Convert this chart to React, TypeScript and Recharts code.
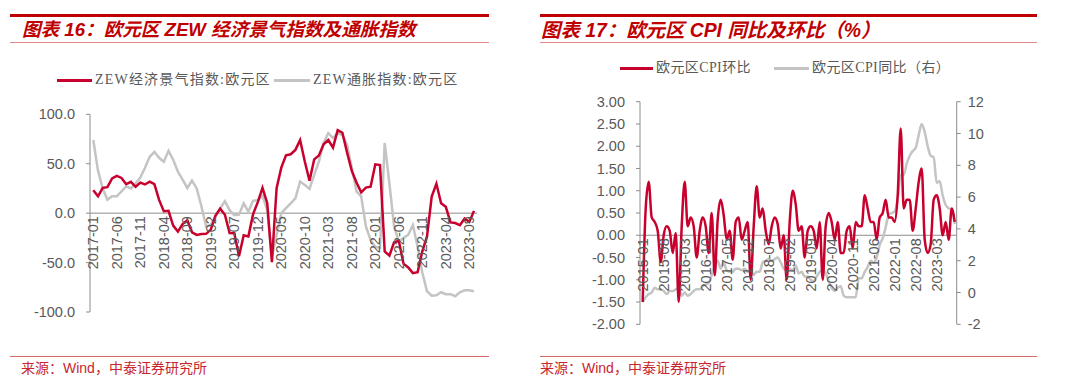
import React from 'react';
import { LineChart, Line, XAxis, YAxis, ReferenceLine } from 'recharts';

const RED = '#C8002D';
const GRAY = '#C4C4C4';
const AXIS = '#8C8C8C';
const TEXT = '#595959';
const TITLE_RED = '#C00000';
const SANS = '"Liberation Sans", Arial, "Noto Sans CJK SC", sans-serif';
const SERIF = '"Liberation Serif", "Noto Sans CJK SC", serif';

// month labels, yyyy-mm
function monthLabels(startYear: number, startMonth: number, count: number): string[] {
  const out: string[] = [];
  let y = startYear;
  let m = startMonth;
  for (let i = 0; i < count; i++) {
    out.push(`${y}-${m < 10 ? '0' + m : m}`);
    m++;
    if (m > 12) { m = 1; y++; }
  }
  return out;
}

// ---- chart 16: ZEW sentiment & inflation expectations (2017-01 .. 2023-10)
const zewMonths = monthLabels(2017, 1, 82);
const zewSentiment = [
  23.2, 17.1, 25.6, 26.3, 35.1, 37.7, 35.6, 29.3, 31.7, 26.7, 30.9, 29.0,
  31.8, 29.3, 13.4, 1.9, 2.4, -12.6, -18.7, -11.1, -7.2, -19.4, -22.0, -21.0,
  -20.9, -16.6, -2.5, 4.5, -1.6, -20.2, -20.3, -43.6, -22.4, -23.5, -1.0, 11.2,
  25.6, 10.4, -49.5, 25.2, 46.0, 58.6, 59.6, 64.0, 73.9, 52.3, 32.8, 54.4,
  58.3, 69.6, 74.0, 66.3, 84.0, 81.3, 61.2, 42.7, 31.1, 21.0, 25.9, 26.8,
  49.4, 48.6, -38.7, -43.0, -29.5, -28.0, -51.1, -54.9, -60.7, -59.7, -38.7, -23.6,
  16.7, 29.7, 10.0, 6.4, -9.4, -10.0, -12.2, -5.5, -8.9, 2.3,
];
const zewInflation = [
  74, 43, 25, 13.5, 17, 17, 22, 27, 25, 30, 36, 46,
  57, 62, 56, 52, 63, 54, 42, 34, 25.5, 33, 25, 7,
  -13.5, -12, -3, 5, 12, 3, -2, -1.5, 10, 1.5, 12.7, 13,
  17.5, 3, -45, -22, 0, 5, 10, 15, 32, 28.6, 24.5, 38.7,
  52, 71, 81, 76, 81, 79, 69, 46, 22, 17, -13.5, -27,
  -34, -35, 71, 30, -13.5, -28.7, -25, -22, -12, -34, -60, -79,
  -83.5, -83, -80, -82, -82, -84, -80, -78, -78, -79,
];
const zewTicks = [-100, -50, 0, 50, 100];

// ---- chart 17: euro area CPI mom & yoy (2015-01 .. 2023-09)
const cpiMonths = monthLabels(2015, 1, 105);
const cpiMoM = [
  -1.5, 0.6, 1.2, 0.4, 0.3, 0.1, -0.6, 0.0, 0.2, 0.1, -0.4, 0.05,
  -1.5, 0.2, 1.2, 0.2, 0.4, 0.2, -0.5, 0.1, 0.4, 0.2, -0.4, 0.5,
  -0.9, 0.35, 0.8, 0.45, -0.1, 0.1, -0.55, 0.3, 0.4, -0.1, 0.1, 0.3,
  -1.0, 0.2, 1.1, 0.4, 0.6, 0.1, -0.2, 0.2, 0.4, 0.25, -0.3, 0.0,
  -1.0, 0.3, 1.0, 0.7, 0.1, 0.2, -0.5, 0.1, 0.2, 0.1, -0.3, 0.3,
  -1.0, 0.2, 0.5, 0.3, -0.1, 0.3, -0.4, -0.4, 0.1, 0.2, -0.3, 0.3,
  0.2, 0.2, 0.9, 0.6, 0.3, 0.3, -0.1, 0.4, 0.5, 0.8, 0.4, 0.4,
  0.3, 0.9, 2.4, 0.6, 0.8, 0.8, 0.1, 0.6, 1.2, 1.5, -0.1, -0.4,
  -0.2, 0.8, 0.9, 0.6, 0.0, 0.3, -0.1, 0.6, 0.3,
];
const cpiYoY = [
  -0.6, -0.3, -0.1, 0.0, 0.3, 0.2, 0.2, 0.1, -0.1, 0.1, 0.1, 0.2,
  0.3, -0.2, 0.0, -0.2, -0.1, 0.1, 0.2, 0.2, 0.4, 0.5, 0.6, 1.1,
  1.7, 2.0, 1.5, 1.9, 1.4, 1.3, 1.3, 1.5, 1.5, 1.4, 1.5, 1.3,
  1.3, 1.1, 1.3, 1.3, 1.9, 2.0, 2.1, 2.0, 2.1, 2.2, 1.9, 1.5,
  1.4, 1.5, 1.4, 1.7, 1.2, 1.3, 1.0, 1.0, 0.8, 0.7, 1.0, 1.3,
  1.4, 1.2, 0.7, 0.3, 0.1, 0.3, 0.4, -0.2, -0.3, -0.3, -0.3, -0.3,
  0.9, 0.9, 1.3, 1.6, 2.0, 1.9, 2.2, 3.0, 3.4, 4.1, 4.9, 5.0,
  5.1, 5.9, 7.4, 7.4, 8.1, 8.6, 8.9, 9.1, 9.9, 10.6, 10.1, 9.2,
  8.6, 8.5, 6.9, 7.0, 6.1, 5.5, 5.3, 5.2, 4.3,
];
const cpiLeftTicks = [-2, -1.5, -1, -0.5, 0, 0.5, 1, 1.5, 2, 2.5, 3];
const cpiRightTicks = [-2, 0, 2, 4, 6, 8, 10, 12];

const zewData = zewMonths.map((m, i) => ({ month: m, sentiment: zewSentiment[i], inflation: zewInflation[i] }));
const cpiData = cpiMonths.map((m, i) => ({ month: m, mom: cpiMoM[i], yoy: cpiYoY[i] }));

// rotated month labels hanging under the zero line
const hangingTick = (zeroY: number) => (props: any) => {
  const { x, payload } = props;
  const y = zeroY + 3;
  return (
    <text
      x={x}
      y={y}
      transform={`rotate(-90 ${x} ${y})`}
      textAnchor="end"
      dominantBaseline="central"
      fill={TEXT}
      fontSize={14.5}
      fontFamily={SANS}
    >
      {payload.value}
    </text>
  );
};

const Header = ({ left, width, title, textLeft, size }: { left: number; width: number; title: string; textLeft: number; size: number }) => (
  <>
    <div style={{ position: 'absolute', left, top: 14, width, height: 2.5, background: TITLE_RED }} />
    <div style={{
      position: 'absolute', left: textLeft, top: 18, whiteSpace: 'nowrap',
      color: TITLE_RED, fontFamily: SANS, fontStyle: 'italic', fontWeight: 'bold', fontSize: size, lineHeight: '24px',
    }}>{title}</div>
    <div style={{ position: 'absolute', left, top: 41.5, width, height: 1, background: '#E58A8A' }} />
  </>
);

const Footer = ({ left, width, textLeft }: { left: number; width: number; textLeft: number }) => (
  <>
    <div style={{ position: 'absolute', left, top: 356, width, height: 1, background: '#D46A6A' }} />
    <div style={{
      position: 'absolute', left: textLeft, top: 359, whiteSpace: 'nowrap',
      color: '#C8262E', fontFamily: SERIF, fontSize: 14, lineHeight: '18px',
    }}>来源：<span style={{ fontFamily: SANS }}>Wind</span>，中泰证券研究所</div>
  </>
);

const LegendItem = ({ x, y, len, color, label, spacing }: { x: number; y: number; len: number; color: string; label: string; spacing?: number }) => (
  <>
    <div style={{ position: 'absolute', left: x, top: y - 1.5, width: len, height: 3, background: color }} />
    <div style={{
      position: 'absolute', left: x + len + 3, top: y - 9, whiteSpace: 'nowrap', color: TEXT,
      fontFamily: SERIF, fontSize: 14, lineHeight: '18px', letterSpacing: spacing ?? 0,
    }}>{label}</div>
  </>
);

// chart geometry
const Z = { w: 490, h: 230, top: 14.3, bottom: 17, xh: 1, right: 13, yw: 90 };
const zPlotH = Z.h - Z.top - Z.bottom - Z.xh;
const zZeroY = Z.top + zPlotH * (100 / 200);

const C = { w: 500, h: 250, top: 11.7, bottom: 14.7, xh: 1, right: 33.3, yw: 100, ryw: 50 };
const cPlotH = C.h - C.top - C.bottom - C.xh;
const cZeroY = C.top + cPlotH * (3 / 5);

export default function App() {
  return (
    <div style={{ position: 'absolute', left: 0, top: 0, width: 1080, height: 391, background: '#fff', overflow: 'hidden' }}>
      <Header left={10} width={479} textLeft={22} size={18.6} title="图表 16：欧元区 ZEW 经济景气指数及通胀指数" />
      <Header left={540} width={497} textLeft={541} size={19.4} title="图表 17：欧元区 CPI 同比及环比（%）" />

      <LegendItem x={57} y={80} len={35} color={RED} label="ZEW经济景气指数:欧元区" spacing={1.2} />
      <LegendItem x={274} y={80} len={36} color={GRAY} label="ZEW通胀指数:欧元区" spacing={1.2} />

      <LegendItem x={620} y={68} len={33} color={RED} label="欧元区CPI环比" spacing={0.4} />
      <LegendItem x={774} y={68} len={35} color={GRAY} label="欧元区CPI同比（右）" spacing={0.4} />

      <div style={{ position: 'absolute', left: 0, top: 100 }}>
        <LineChart width={Z.w} height={Z.h} data={zewData} margin={{ top: Z.top, bottom: Z.bottom, left: 0, right: Z.right }}>
          <XAxis
            dataKey="month"
            height={Z.xh}
            axisLine={false}
            tickLine={false}
            interval={4}
            padding={{ left: 3.3, right: 3 }}
            tick={hangingTick(zZeroY)}
          />
          <YAxis
            width={Z.yw}
            domain={[-100, 100]}
            ticks={zewTicks}
            interval={0}
            tickFormatter={(v: number) => v.toFixed(1)}
            tick={{ fill: TEXT, fontSize: 14.5, fontFamily: SANS }}
            tickSize={4}
            tickMargin={11}
            axisLine={{ stroke: AXIS }}
            tickLine={{ stroke: AXIS }}
          />
          <ReferenceLine y={0} stroke={AXIS} strokeWidth={1} />
          <Line type="linear" dataKey="inflation" stroke={GRAY} strokeWidth={2.5} dot={false} isAnimationActive={false} />
          <Line type="linear" dataKey="sentiment" stroke={RED} strokeWidth={2.5} dot={false} isAnimationActive={false} />
        </LineChart>
      </div>

      <div style={{ position: 'absolute', left: 540, top: 90 }}>
        <LineChart width={C.w} height={C.h} data={cpiData} margin={{ top: C.top, bottom: C.bottom, left: 0, right: C.right }}>
          <XAxis
            dataKey="month"
            height={C.xh}
            axisLine={false}
            tickLine={false}
            interval={6}
            padding={{ left: 2.7, right: 2 }}
            tick={hangingTick(cZeroY)}
          />
          <YAxis
            yAxisId="left"
            width={C.yw}
            domain={[-2, 3]}
            ticks={cpiLeftTicks}
            interval={0}
            tickFormatter={(v: number) => v.toFixed(2)}
            tick={{ fill: TEXT, fontSize: 14.5, fontFamily: SANS }}
            tickSize={4}
            tickMargin={11}
            axisLine={{ stroke: AXIS }}
            tickLine={{ stroke: AXIS }}
          />
          <YAxis
            yAxisId="right"
            orientation="right"
            width={C.ryw}
            domain={[-2, 12]}
            ticks={cpiRightTicks}
            interval={0}
            tick={{ fill: TEXT, fontSize: 14.5, fontFamily: SANS }}
            tickSize={4}
            tickMargin={7}
            axisLine={{ stroke: AXIS }}
            tickLine={{ stroke: AXIS }}
          />
          <ReferenceLine yAxisId="left" y={0} stroke={AXIS} strokeWidth={1} />
          <Line yAxisId="right" type="monotone" dataKey="yoy" stroke={GRAY} strokeWidth={2.5} dot={false} isAnimationActive={false} />
          <Line yAxisId="left" type="monotone" dataKey="mom" stroke={RED} strokeWidth={2.5} dot={false} isAnimationActive={false} />
        </LineChart>
      </div>

      <Footer left={10} width={479} textLeft={21} />
      <Footer left={540} width={497} textLeft={540} />
    </div>
  );
}
